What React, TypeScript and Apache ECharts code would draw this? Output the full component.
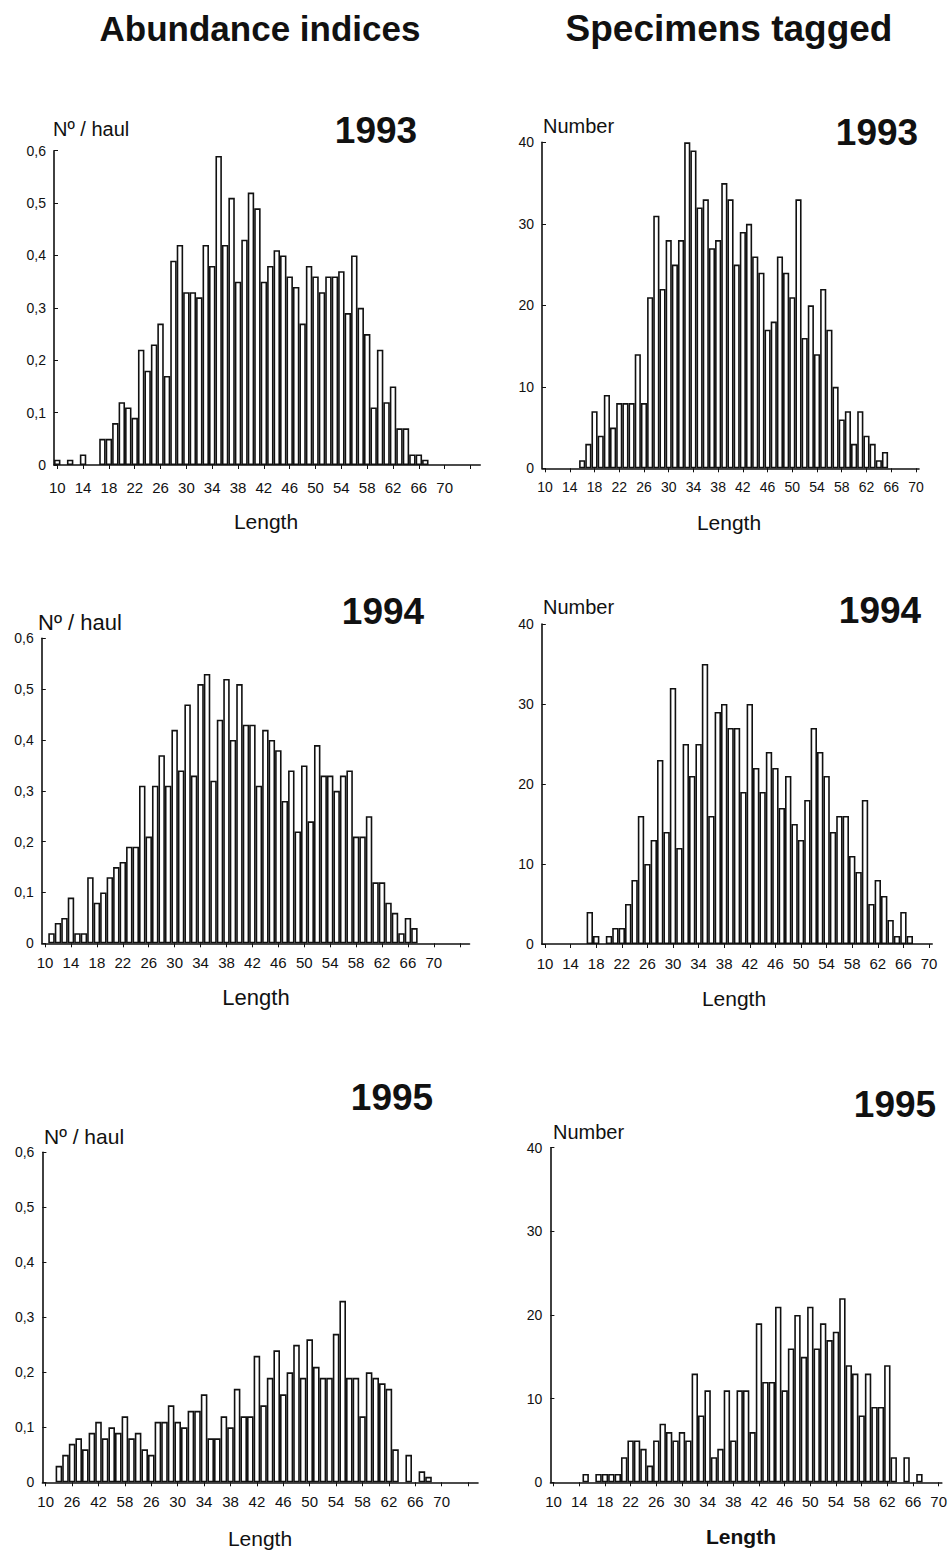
import React, { useEffect, useRef } from "react";
import * as echarts from "echarts";

// Length classes (cm)
const lengthsLeft = [10, 11, 12, 13, 14, 15, 16, 17, 18, 19, 20, 21, 22, 23, 24, 25, 26, 27, 28, 29, 30, 31, 32, 33, 34, 35, 36, 37, 38, 39, 40, 41, 42, 43, 44, 45, 46, 47, 48, 49, 50, 51, 52, 53, 54, 55, 56, 57, 58, 59, 60, 61, 62, 63, 64, 65, 66, 67, 68, 69, 70, 71, 72, 73, 74, 75];
const lengthsRight = [10, 11, 12, 13, 14, 15, 16, 17, 18, 19, 20, 21, 22, 23, 24, 25, 26, 27, 28, 29, 30, 31, 32, 33, 34, 35, 36, 37, 38, 39, 40, 41, 42, 43, 44, 45, 46, 47, 48, 49, 50, 51, 52, 53, 54, 55, 56, 57, 58, 59, 60, 61, 62, 63, 64, 65, 66, 67, 68, 69, 70];

// Tick labels
const xTickLabels = ["10", "14", "18", "22", "26", "30", "34", "38", "42", "46", "50", "54", "58", "62", "66", "70"];
const xTickLabelsAbund1995 = ["10", "26", "42", "58", "26", "30", "34", "38", "42", "46", "50", "54", "58", "62", "66", "70"];

// Abundance indices (Nº / haul), values from length 10 upwards
const abund1993 = [0.01, 0, 0.01, 0, 0.02, 0, 0, 0.05, 0.05, 0.08, 0.12, 0.11, 0.09, 0.22, 0.18, 0.23, 0.27, 0.17, 0.39, 0.42, 0.33, 0.33, 0.32, 0.42, 0.38, 0.59, 0.42, 0.51, 0.35, 0.43, 0.52, 0.49, 0.35, 0.38, 0.41, 0.40, 0.36, 0.34, 0.27, 0.38, 0.36, 0.33, 0.36, 0.36, 0.37, 0.29, 0.40, 0.30, 0.25, 0.11, 0.22, 0.12, 0.15, 0.07, 0.07, 0.02, 0.02, 0.01];
const abund1994 = [0, 0.02, 0.04, 0.05, 0.09, 0.02, 0.02, 0.13, 0.08, 0.10, 0.13, 0.15, 0.16, 0.19, 0.19, 0.31, 0.21, 0.31, 0.37, 0.31, 0.42, 0.34, 0.47, 0.33, 0.51, 0.53, 0.32, 0.44, 0.52, 0.40, 0.51, 0.43, 0.43, 0.31, 0.42, 0.40, 0.38, 0.28, 0.34, 0.22, 0.35, 0.24, 0.39, 0.33, 0.33, 0.30, 0.33, 0.34, 0.21, 0.21, 0.25, 0.12, 0.12, 0.08, 0.06, 0.02, 0.05, 0.03];
const abund1995 = [0, 0, 0.03, 0.05, 0.07, 0.08, 0.06, 0.09, 0.11, 0.08, 0.10, 0.09, 0.12, 0.08, 0.09, 0.06, 0.05, 0.11, 0.11, 0.14, 0.11, 0.10, 0.13, 0.13, 0.16, 0.08, 0.08, 0.12, 0.10, 0.17, 0.12, 0.12, 0.23, 0.14, 0.19, 0.24, 0.16, 0.20, 0.25, 0.19, 0.26, 0.21, 0.19, 0.19, 0.27, 0.33, 0.19, 0.19, 0.12, 0.20, 0.19, 0.18, 0.17, 0.06, 0, 0.05, 0, 0.02, 0.01];

// Specimens tagged (Number), values from length 10 upwards
const tagged1993 = [0, 0, 0, 0, 0, 0, 1, 3, 7, 4, 9, 5, 8, 8, 8, 14, 8, 21, 31, 22, 28, 25, 28, 40, 39, 32, 33, 27, 28, 35, 33, 25, 29, 30, 26, 24, 17, 18, 26, 24, 21, 33, 16, 20, 14, 22, 17, 10, 6, 7, 3, 7, 4, 3, 1, 2];
const tagged1994 = [0, 0, 0, 0, 0, 0, 0, 4, 1, 0, 1, 2, 2, 5, 8, 16, 10, 13, 23, 14, 32, 12, 25, 21, 25, 35, 16, 29, 30, 27, 27, 19, 30, 22, 19, 24, 22, 17, 21, 15, 13, 18, 27, 24, 21, 14, 16, 16, 11, 9, 18, 5, 8, 6, 3, 1, 4, 1];
const tagged1995 = [0, 0, 0, 0, 0, 1, 0, 1, 1, 1, 1, 3, 5, 5, 4, 2, 5, 7, 6, 5, 6, 5, 13, 8, 11, 3, 4, 11, 5, 11, 11, 6, 19, 12, 12, 21, 11, 16, 20, 15, 21, 16, 19, 17, 18, 22, 14, 13, 8, 13, 9, 9, 14, 3, 0, 3, 0, 1];

const FONT = "'Liberation Sans', Arial, Helvetica, sans-serif";
const INK = "#111";

type Panel = {
  cats: number[];
  values: number[];
  labels: string[];
  left: number;
  top: number;
  width: number;
  height: number;
  max: number;
  interval: number;
  decimal: boolean;
  labelMargin: number;
  labelSize: number;
};

const panels: Panel[] = [
  { cats: lengthsLeft, values: abund1993, labels: xTickLabels, left: 54, top: 150.7, width: 426.2, height: 314.3, max: 0.6, interval: 0.1, decimal: true, labelMargin: 15, labelSize: 15 },
  { cats: lengthsRight, values: tagged1993, labels: xTickLabels, left: 542, top: 142.3, width: 377, height: 326, max: 40, interval: 10, decimal: false, labelMargin: 12, labelSize: 14 },
  { cats: lengthsLeft, values: abund1994, labels: xTickLabels, left: 41.8, top: 638.3, width: 427.7, height: 305, max: 0.6, interval: 0.1, decimal: true, labelMargin: 12, labelSize: 15 },
  { cats: lengthsRight, values: tagged1994, labels: xTickLabels, left: 541.8, top: 624, width: 390.4, height: 320, max: 40, interval: 10, decimal: false, labelMargin: 12, labelSize: 15 },
  { cats: lengthsLeft, values: abund1995, labels: xTickLabelsAbund1995, left: 42.4, top: 1152.3, width: 435.6, height: 330, max: 0.6, interval: 0.1, decimal: true, labelMargin: 12, labelSize: 15 },
  { cats: lengthsRight, values: tagged1995, labels: xTickLabels, left: 550.4, top: 1147.7, width: 391.6, height: 334.6, max: 40, interval: 10, decimal: false, labelMargin: 12, labelSize: 15 },
];

function txt(text: string, x: number, y: number, size: number, bold = false, align = "center") {
  return {
    type: "text",
    x,
    y,
    silent: true,
    style: {
      text,
      fontSize: size,
      fontWeight: bold ? "bold" : "normal",
      fontFamily: FONT,
      fill: INK,
      textAlign: align,
      textVerticalAlign: "middle",
    },
  };
}

export default function App() {
  const ref = useRef<HTMLDivElement>(null);

  useEffect(() => {
    if (!ref.current) return;
    const chart = echarts.init(ref.current, undefined, { renderer: "svg" });

    const grid = panels.map((p) => ({ left: p.left, top: p.top, width: p.width, height: p.height, containLabel: false }));

    const xAxis = panels.map((p, i) => ({
      gridIndex: i,
      type: "category",
      data: p.cats.map(String),
      boundaryGap: true,
      axisLine: { show: true, lineStyle: { color: INK, width: 1.6 } },
      axisTick: { show: true, alignWithLabel: true, interval: 3, length: 4, lineStyle: { color: INK, width: 1 } },
      axisLabel: {
        show: true,
        interval: 3,
        margin: p.labelMargin,
        fontSize: p.labelSize,
        fontFamily: FONT,
        color: INK,
        formatter: (_v: string, idx: number) => (idx % 4 === 0 ? p.labels[idx / 4] ?? "" : ""),
      },
      splitLine: { show: false },
    }));

    const yAxis = panels.map((p, i) => ({
      gridIndex: i,
      type: "value",
      min: 0,
      max: p.max,
      interval: p.interval,
      axisLine: { show: true, lineStyle: { color: INK, width: 1.6 } },
      axisTick: { show: true, inside: true, length: 4, lineStyle: { color: INK, width: 1 } },
      splitLine: { show: false },
      axisLabel: {
        fontSize: 14,
        fontFamily: FONT,
        color: INK,
        margin: 8,
        formatter: (v: number) => (p.decimal ? (v === 0 ? "0" : v.toFixed(1).replace(".", ",")) : String(Math.round(v))),
      },
    }));

    const series = panels.map((p, i) => ({
      type: "bar",
      xAxisIndex: i,
      yAxisIndex: i,
      barCategoryGap: "0%",
      data: p.cats.map((_c, k) => {
        const v = p.values[k];
        return v ? v : null;
      }),
      itemStyle: { color: "#ffffff", borderColor: INK, borderWidth: 1.6 },
      silent: true,
    }));

    const graphic = [
      txt("Abundance indices", 260, 28, 35, true),
      txt("Specimens tagged", 729, 28, 37, true),
      txt("1993", 376, 130, 37, true),
      txt("1993", 877, 132, 37, true),
      txt("1994", 383, 611, 37, true),
      txt("1994", 880, 610, 37, true),
      txt("1995", 392, 1097, 37, true),
      txt("1995", 895, 1104, 37, true),
      txt("Nº / haul", 53, 129, 20, false, "left"),
      txt("Nº / haul", 38, 622, 22, false, "left"),
      txt("Nº / haul", 44, 1136, 21, false, "left"),
      txt("Number", 543, 126, 20, false, "left"),
      txt("Number", 543, 607, 20, false, "left"),
      txt("Number", 553, 1132, 20, false, "left"),
      txt("Length", 266, 521, 21),
      txt("Length", 729, 522, 21),
      txt("Length", 256, 997, 22),
      txt("Length", 734, 998, 21),
      txt("Length", 260, 1538, 21),
      txt("Length", 741, 1536, 21, true),
    ];

    chart.setOption({
      animation: false,
      backgroundColor: "#ffffff",
      textStyle: { fontFamily: FONT },
      grid,
      xAxis,
      yAxis,
      series,
      graphic,
    });

    return () => chart.dispose();
  }, []);

  return <div ref={ref} style={{ position: "absolute", left: 0, top: 0, width: 950, height: 1550 }} />;
}
